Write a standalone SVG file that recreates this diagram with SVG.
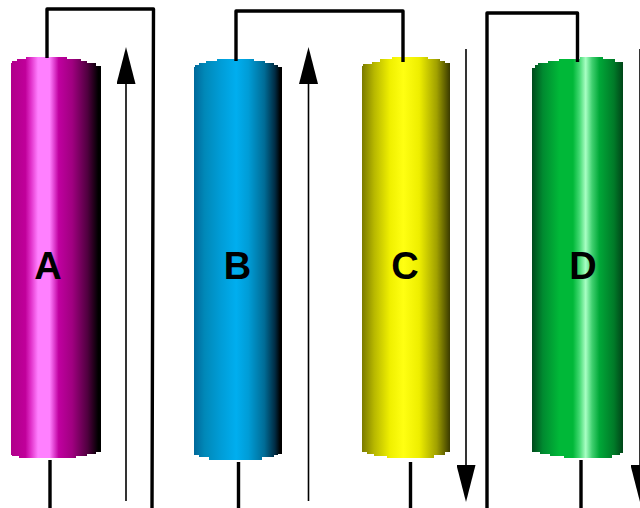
<svg xmlns="http://www.w3.org/2000/svg" width="640" height="508" viewBox="0 0 640 508">
<defs>
<linearGradient id="gA"><stop offset="0" stop-color="#b0008a"/><stop offset=".16" stop-color="#c0009a"/><stop offset=".22" stop-color="#e030c8"/><stop offset=".3" stop-color="#ff80ff"/><stop offset=".43" stop-color="#ff80ff"/><stop offset=".53" stop-color="#c000a0"/><stop offset=".68" stop-color="#a00080"/><stop offset=".85" stop-color="#50003f"/><stop offset=".97" stop-color="#000"/></linearGradient>
<linearGradient id="gB"><stop offset="0" stop-color="#00689a"/><stop offset=".12" stop-color="#0088b8"/><stop offset=".3" stop-color="#009cd6"/><stop offset=".48" stop-color="#00aeef"/><stop offset=".62" stop-color="#009cd6"/><stop offset=".8" stop-color="#006c96"/><stop offset=".92" stop-color="#002c44"/><stop offset=".98" stop-color="#000"/></linearGradient>
<linearGradient id="gC"><stop offset="0" stop-color="#7a7a00"/><stop offset=".14" stop-color="#b8b800"/><stop offset=".32" stop-color="#f0f000"/><stop offset=".47" stop-color="#ffff12"/><stop offset=".65" stop-color="#eeee00"/><stop offset=".85" stop-color="#a0a000"/><stop offset="1" stop-color="#3a3a00"/></linearGradient>
<linearGradient id="gD"><stop offset="0" stop-color="#004a1c"/><stop offset=".12" stop-color="#008a30"/><stop offset=".3" stop-color="#00b838"/><stop offset=".45" stop-color="#00b838"/><stop offset=".52" stop-color="#40d870"/><stop offset=".59" stop-color="#a8ffc4"/><stop offset=".66" stop-color="#40d070"/><stop offset=".74" stop-color="#00a838"/><stop offset=".9" stop-color="#007a28"/><stop offset="1" stop-color="#004518"/></linearGradient>
<marker id="ah" markerUnits="userSpaceOnUse" markerWidth="37" markerHeight="19" refX="30" refY="9.5" orient="auto" viewBox="0 0 37 19"><path d="M0 0L37 9.500L0 19Z" fill="#000"/></marker>
</defs>
<style>
.wire{fill:none;stroke:#000;stroke-width:3.4;stroke-linejoin:round}
.flow{fill:none;stroke:#000;stroke-width:1.6;marker-end:url(#ah)}
.lab{font:bold 38px "Liberation Sans",Arial,sans-serif;text-anchor:middle;fill:#000}
</style>
<g id="A"><path d="M11 66V63H12V61H17V59H26V57H67V59H81V61H87V63H96V66H101V452H96V454H87V456H76V458H19V456H12V455H11Z" fill="url(#gA)"/><text class="lab" x="48" y="279">A</text></g>
<g id="B"><path d="M194 67H195V65H199V63H206V61H217V59H254V61H265V63H274V65H278V67H282V454H278V455H274V457H262V460H209V457H199V455H194Z" fill="url(#gB)"/><text class="lab" x="237.500" y="279">B</text></g>
<g id="C"><path d="M362 66H363V64H372V62H380V59H392V57H428V59H440V61H445V63H450V452H445V455H434V458H387V456H374V454H367V452H362Z" fill="url(#gC)"/><text class="lab" x="405" y="279">C</text></g>
<g id="D"><path d="M532 68H535V65H538V63H548V61H559V59H580V57H603V59H615V62H623V453H620V455H612V458H564V456H550V454H540V452H532Z" fill="url(#gD)"/><text class="lab" x="583" y="279">D</text></g>
<g id="connectors">
<path class="wire" d="M47 58V9H153.500L152 508"/>
<path class="wire" d="M236 61V11H403V62"/>
<path class="wire" d="M487 508V13H577.500V62"/>
<path class="wire" d="M50 460V508M238.500 462V508M410.500 462V508M581 460V508"/>
<path class="flow" d="M126 501V54"/>
<path class="flow" d="M308.500 501V54"/>
<path class="flow" d="M466 49V495"/>
<path class="flow" d="M640 49V495"/>
</g>
</svg>
